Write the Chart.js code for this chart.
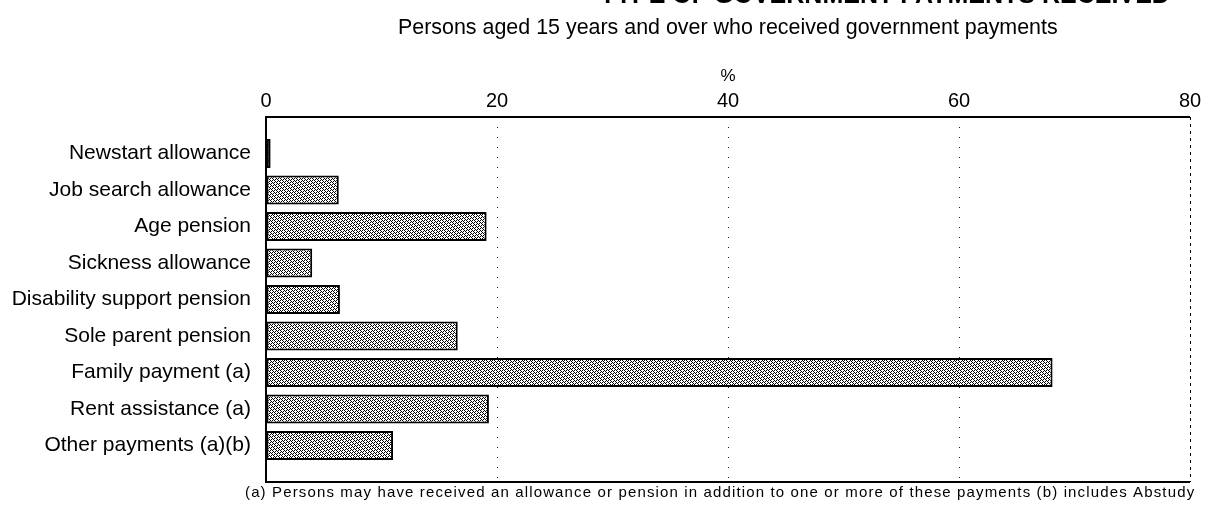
<!DOCTYPE html>
<html>
<head>
<meta charset="utf-8">
<script src="https://cdn.jsdelivr.net/npm/chart.js@4"></script>
<style>
  html, body { margin: 0; padding: 0; background: #fff; }
  #wrap { width: 1209px; height: 513px; position: relative; }
</style>
</head>
<body>
<div id="wrap"><canvas id="c" width="1209" height="513"></canvas></div>
<script>
// Government payments received, persons aged 15 years and over (%)
const categories = [
  'Newstart allowance',
  'Job search allowance',
  'Age pension',
  'Sickness allowance',
  'Disability support pension',
  'Sole parent pension',
  'Family payment (a)',
  'Rent assistance (a)',
  'Other payments (a)(b)'
];
const percentages = [0.4, 6.3, 19.1, 4.0, 6.4, 16.6, 68.1, 19.3, 11.0];
const xTicks = [0, 20, 40, 60, 80];

const titleText = 'TYPE OF GOVERNMENT PAYMENTS RECEIVED';
const subtitleText = 'Persons aged 15 years and over who received government payments';
const footnoteText = '(a) Persons may have received an allowance or pension in addition to one or more of these payments (b) includes Abstudy';

const FONT = "'Liberation Sans', Arial, Helvetica, sans-serif";

// Halftone fill used for the bars
function makeHalftone() {
  const p = document.createElement('canvas');
  p.width = 8; p.height = 8;
  const g = p.getContext('2d');
  g.fillStyle = '#fff';
  g.fillRect(0, 0, 8, 8);
  g.fillStyle = '#000';
  for (let y = 0; y < 8; y++) {
    for (let x = 0; x < 8; x++) {
      const checker = (x + y) % 2 === 0;
      const gap = ((x + 3 * y) % 8) === 0;
      if (checker && !gap) g.fillRect(x, y, 1, 1);
    }
  }
  return g.createPattern(p, 'repeat');
}

// Draw a line of text so that it spans the given width
function fitText(ctx, text, x, y, width, baseSize, weight) {
  ctx.font = (weight || '') + ' ' + baseSize + 'px ' + FONT;
  const w = ctx.measureText(text).width;
  const size = baseSize * width / w;
  ctx.font = (weight || '') + ' ' + size.toFixed(2) + 'px ' + FONT;
  ctx.fillText(text, x, y);
}

// Empty slots above and below keep the rows evenly spaced in the frame
const yLabels = [''].concat(categories, ['']);
const yValues = [null].concat(percentages, [null]);

const textPlugin = {
  id: 'texts',
  afterDraw(chart) {
    const ctx = chart.ctx;
    const a = chart.chartArea;
    ctx.save();
    ctx.fillStyle = '#000';
    // heading, running off the top edge
    ctx.textAlign = 'left';
    ctx.textBaseline = 'alphabetic';
    fitText(ctx, titleText, 600, 3, 570, 20, 'bold');
    // subtitle
    ctx.textBaseline = 'middle';
    fitText(ctx, subtitleText, 398, 28, 660, 18);
    // footnote, spread to its line width
    ctx.font = '15px ' + FONT;
    const w = ctx.measureText(footnoteText).width;
    ctx.letterSpacing = ((950 - w) / footnoteText.length).toFixed(2) + 'px';
    ctx.fillText(footnoteText, 245, 493);
    ctx.restore();

    // plot frame
    ctx.save();
    ctx.strokeStyle = '#000';
    ctx.lineWidth = 2;
    ctx.beginPath();
    ctx.moveTo(a.right, a.top);
    ctx.lineTo(a.left, a.top);
    ctx.lineTo(a.left, a.bottom);
    ctx.lineTo(a.right, a.bottom);
    ctx.stroke();
    ctx.lineWidth = 1;
    ctx.setLineDash([3, 4]);
    ctx.beginPath();
    ctx.moveTo(a.right + 0.5, a.top);
    ctx.lineTo(a.right + 0.5, a.bottom);
    ctx.stroke();
    ctx.restore();
  }
};

new Chart(document.getElementById('c'), {
  type: 'bar',
  data: {
    labels: yLabels,
    datasets: [{
      data: yValues,
      backgroundColor: makeHalftone(),
      borderColor: '#000',
      borderWidth: 2,
      borderSkipped: false,
      categoryPercentage: 1.0,
      barPercentage: 0.8
    }]
  },
  plugins: [textPlugin],
  options: {
    indexAxis: 'y',
    responsive: false,
    animation: false,
    devicePixelRatio: 1,
    layout: { padding: { top: 48, bottom: 31, left: 0, right: 19 } },
    plugins: {
      legend: { display: false },
      tooltip: { enabled: false }
    },
    scales: {
      x: {
        type: 'linear',
        position: 'top',
        min: 0,
        max: 80,
        afterBuildTicks(scale) { scale.ticks = xTicks.map(v => ({ value: v })); },
        afterFit(scale) { scale.height = 69; },
        border: { display: false, dash: [1, 9] },
        grid: {
          drawTicks: false,
          color: (c) => (c.tick && c.tick.value > 0 && c.tick.value < 80) ? '#222' : 'rgba(0,0,0,0)',
          lineWidth: 1
        },
        ticks: {
          padding: 4,
          color: '#000',
          font: { family: FONT, size: 20 }
        },
        title: {
          display: true,
          text: '%',
          color: '#000',
          font: { family: FONT, size: 17 },
          padding: { top: 18, bottom: 0 }
        }
      },
      y: {
        type: 'category',
        offset: false,
        afterFit(scale) { scale.width = 266; },
        border: { display: false },
        grid: { display: false, drawTicks: false },
        ticks: {
          padding: 15,
          color: '#000',
          autoSkip: false,
          font: { family: FONT, size: 21 }
        }
      }
    }
  }
});
</script>
</body>
</html>
